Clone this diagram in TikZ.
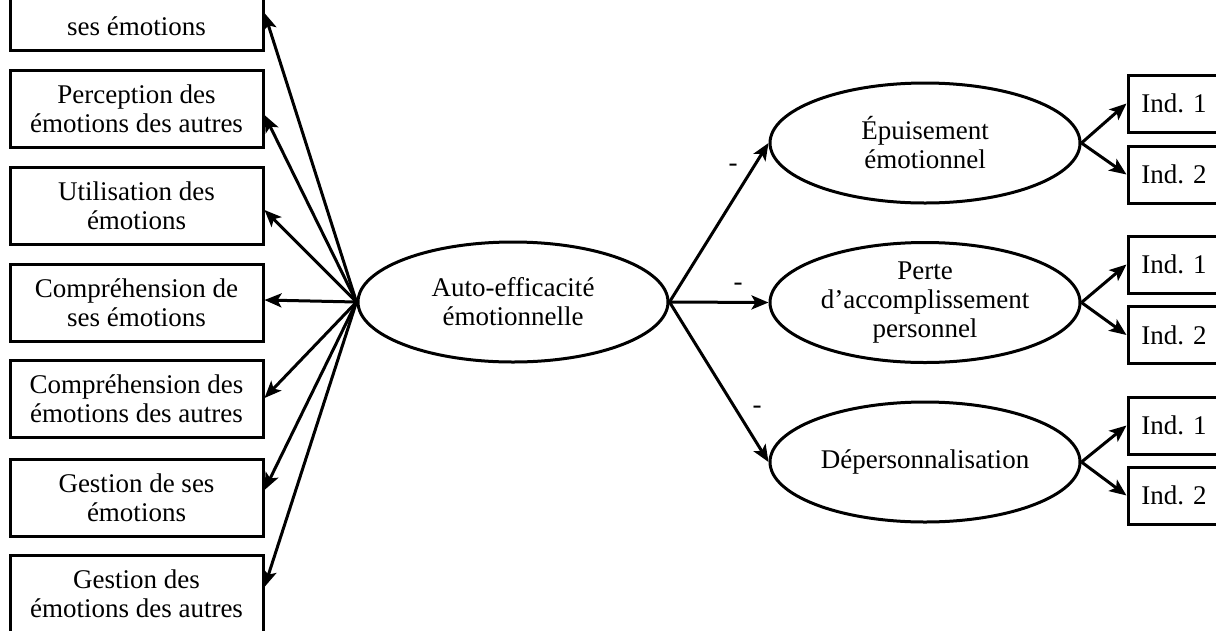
\documentclass[tikz,border=0pt]{standalone}
\usepackage{fontspec}
\setmainfont{Liberation Serif}
\usetikzlibrary{shapes.geometric,arrows.meta}
\begin{document}
\begin{tikzpicture}[x=1pt,y=-1pt,
  txt/.style={font=\fontsize{27}{29}\selectfont, align=center},
  lbox/.style={txt, draw, line width=3pt, minimum width=253pt, minimum height=77pt, inner sep=0pt},
  ibox/.style={txt, draw, line width=3pt, minimum width=92pt, minimum height=57pt, inner sep=0pt},
  lat/.style={txt, draw, ellipse, line width=3pt, minimum width=310pt, minimum height=120pt, inner sep=0pt},
  arr/.style={line width=3pt, -{Stealth[length=17pt,width=14pt,inset=4pt]}},
  sign/.style={font=\fontsize{27}{29}\selectfont, inner sep=0pt}
]
\useasboundingbox (0,0) rectangle (1216,630);
\clip (0,0) rectangle (1216,630);

% left indicator boxes
\node[lbox] (b1) at (136.5,11.5) {\phantom{Perception de}\\ses émotions};
\node[lbox] (b2) at (136.5,108.5) {Perception des\\émotions des autres};
\node[lbox] (b3) at (136.5,206) {Utilisation des\\émotions};
\node[lbox] (b4) at (136.5,302.5) {Compréhension de\\ses émotions};
\node[lbox] (b5) at (136.5,399) {Compréhension des\\émotions des autres};
\node[lbox] (b6) at (136.5,497.5) {Gestion de ses\\émotions};
\node[lbox] (b7) at (136.5,594) {Gestion des\\émotions des autres};

% latent variables
\node[lat] (c) at (513,302) {Auto-efficacité\\émotionnelle};
\node[lat] (e1) at (925,143) {Épuisement\\émotionnel};
\node[lat] (e2) at (925,302.5) {Perte\\d’accomplissement\\personnel};
\node[lat] (e3) at (925,462) {Dépersonnalisation};

% right indicator boxes
\node[ibox] (i1) at (1174,103.5) {Ind. 1};
\node[ibox] (i2) at (1174,174.5) {Ind. 2};
\node[ibox] (i3) at (1174,264.5) {Ind. 1};
\node[ibox] (i4) at (1174,335) {Ind. 2};
\node[ibox] (i5) at (1174,425.5) {Ind. 1};
\node[ibox] (i6) at (1174,495.5) {Ind. 2};

% minus signs
\node[sign] (m1) at (733,168) {-};
\node[sign] (m2) at (738,287) {-};
\node[sign] (m3) at (757,410) {-};

% arrows to left boxes
\draw[arr] (c.west) -- ([yshift=-1.5pt]b1.east);
\draw[arr] (c.west) -- ([yshift=-6.5pt]b2.east);
\draw[arr] (c.west) -- ([yshift=-4pt]b3.east);
\draw[arr] (c.west) -- ([yshift=2.5pt]b4.east);
\draw[arr] (c.west) -- ([yshift=1pt]b5.east);
\draw[arr] (c.west) -- ([yshift=7.5pt]b6.east);
\draw[arr] (c.west) -- ([yshift=7pt]b7.east);

% arrows to burnout dimensions
\draw[arr] (c.east) -- (e1.west);
\draw[arr] (c.east) -- (e2.west);
\draw[arr] (c.east) -- (e3.west);

% arrows to indicators
\draw[arr] (e1.east) -- (i1.west);
\draw[arr] (e1.east) -- (i2.west);
\draw[arr] (e2.east) -- (i3.west);
\draw[arr] (e2.east) -- (i4.west);
\draw[arr] (e3.east) -- (i5.west);
\draw[arr] (e3.east) -- (i6.west);
\end{tikzpicture}
\end{document}
